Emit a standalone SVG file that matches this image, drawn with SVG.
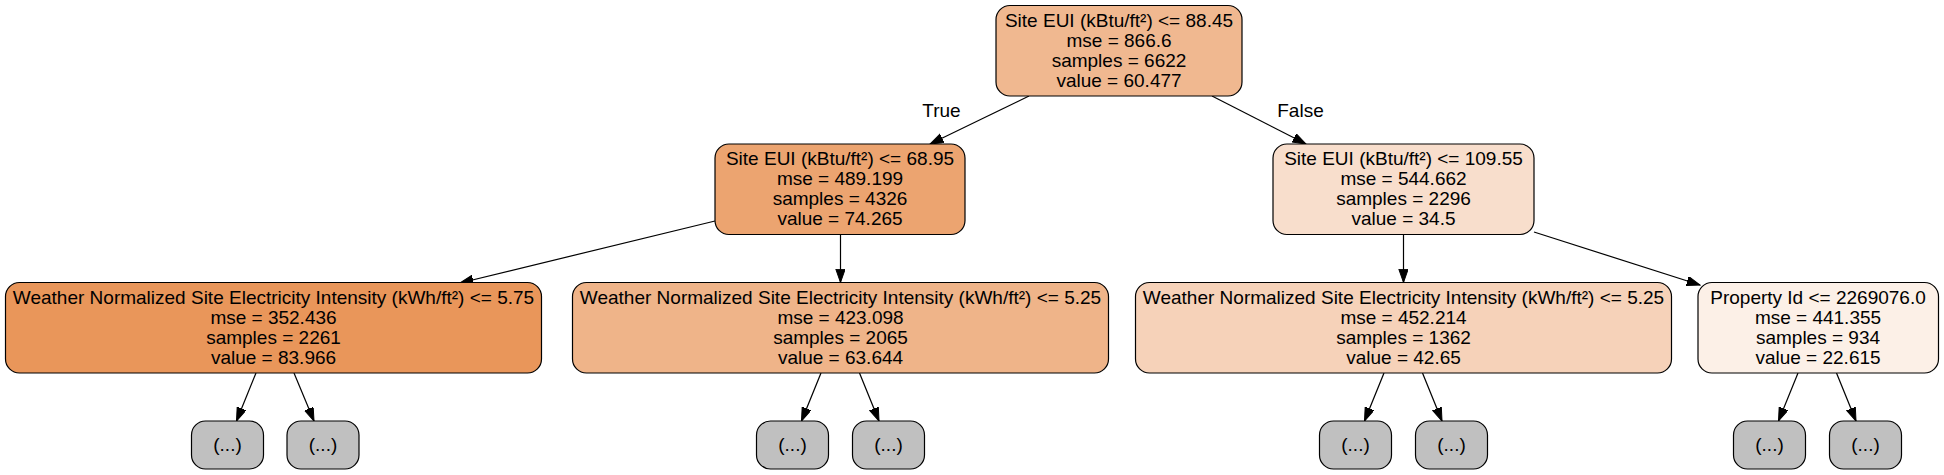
<svg xmlns="http://www.w3.org/2000/svg" width="1944" height="475" viewBox="0 0 1944 475">
<defs>
<marker id="arr" markerUnits="userSpaceOnUse" markerWidth="14" markerHeight="10" refX="13.3" refY="4.67" orient="auto">
<path d="M0,0 L13.3,4.67 L0,9.33 z" fill="#000" stroke="#000" stroke-width="1"/>
</marker>
<style>
.n{stroke:#000;stroke-width:1.2}
.t{font-family:"Liberation Sans",Arial,sans-serif;font-size:19px;fill:#000;text-anchor:middle}
.e{stroke:#000;stroke-width:1.2;fill:none;marker-end:url(#arr)}
.leaf{fill:#c0c0c0;stroke:#000;stroke-width:1.2}
</style>
</defs>
<rect width="1944" height="475" fill="#fff"/>
<g id="connectors">
<line class="e" x1="1029" y1="96" x2="930" y2="144"/>
<line class="e" x1="1212" y1="96" x2="1306" y2="144"/>
<line class="e" x1="715" y1="221" x2="460" y2="283"/>
<line class="e" x1="840.5" y1="234.5" x2="840.5" y2="282.5"/>
<line class="e" x1="1403.5" y1="234.5" x2="1403.5" y2="282.5"/>
<line class="e" x1="1534" y1="232" x2="1700" y2="285"/>
<line class="e" x1="256" y1="373" x2="236.5" y2="421"/>
<line class="e" x1="294" y1="373" x2="314" y2="421"/>
<line class="e" x1="821" y1="373" x2="801.5" y2="421"/>
<line class="e" x1="859.5" y1="373" x2="879" y2="421"/>
<line class="e" x1="1384" y1="373" x2="1364.5" y2="421"/>
<line class="e" x1="1422.5" y1="373" x2="1442" y2="421"/>
<line class="e" x1="1798" y1="373" x2="1778.5" y2="421"/>
<line class="e" x1="1836.5" y1="373" x2="1856" y2="421"/>
<text class="t" x="941.5" y="116.5">True</text>
<text class="t" x="1300.5" y="116.5">False</text>
</g>
<g id="node0">
<rect class="n" x="996" y="5.5" width="246" height="90.5" rx="14" fill="#f0b890"/>
<text class="t" x="1119" y="26.6">Site EUI (kBtu/ft²) &lt;= 88.45</text>
<text class="t" x="1119" y="46.6">mse = 866.6</text>
<text class="t" x="1119" y="66.6">samples = 6622</text>
<text class="t" x="1119" y="86.6">value = 60.477</text>
</g>
<g id="node1">
<rect class="n" x="715" y="144" width="250" height="90.5" rx="14" fill="#eca470"/>
<text class="t" x="840" y="165.2">Site EUI (kBtu/ft²) &lt;= 68.95</text>
<text class="t" x="840" y="185.2">mse = 489.199</text>
<text class="t" x="840" y="205.2">samples = 4326</text>
<text class="t" x="840" y="225.2">value = 74.265</text>
</g>
<g id="node2">
<rect class="n" x="1273" y="144" width="261" height="90.5" rx="14" fill="#f8decc"/>
<text class="t" x="1403.5" y="165.2">Site EUI (kBtu/ft²) &lt;= 109.55</text>
<text class="t" x="1403.5" y="185.2">mse = 544.662</text>
<text class="t" x="1403.5" y="205.2">samples = 2296</text>
<text class="t" x="1403.5" y="225.2">value = 34.5</text>
</g>
<g id="node3">
<rect class="n" x="5.5" y="282.5" width="536" height="90.5" rx="14" fill="#e9965a"/>
<text class="t" x="273.5" y="303.8">Weather Normalized Site Electricity Intensity (kWh/ft²) &lt;= 5.75</text>
<text class="t" x="273.5" y="323.8">mse = 352.436</text>
<text class="t" x="273.5" y="343.8">samples = 2261</text>
<text class="t" x="273.5" y="363.8">value = 83.966</text>
</g>
<g id="node4">
<rect class="n" x="572.5" y="282.5" width="536" height="90.5" rx="14" fill="#efb489"/>
<text class="t" x="840.5" y="303.8">Weather Normalized Site Electricity Intensity (kWh/ft²) &lt;= 5.25</text>
<text class="t" x="840.5" y="323.8">mse = 423.098</text>
<text class="t" x="840.5" y="343.8">samples = 2065</text>
<text class="t" x="840.5" y="363.8">value = 63.644</text>
</g>
<g id="node5">
<rect class="n" x="1135.5" y="282.5" width="536" height="90.5" rx="14" fill="#f6d2b9"/>
<text class="t" x="1403.5" y="303.8">Weather Normalized Site Electricity Intensity (kWh/ft²) &lt;= 5.25</text>
<text class="t" x="1403.5" y="323.8">mse = 452.214</text>
<text class="t" x="1403.5" y="343.8">samples = 1362</text>
<text class="t" x="1403.5" y="363.8">value = 42.65</text>
</g>
<g id="node6">
<rect class="n" x="1698" y="282.5" width="240.5" height="90.5" rx="14" fill="#fcf0e7"/>
<text class="t" x="1818" y="303.8">Property Id &lt;= 2269076.0</text>
<text class="t" x="1818" y="323.8">mse = 441.355</text>
<text class="t" x="1818" y="343.8">samples = 934</text>
<text class="t" x="1818" y="363.8">value = 22.615</text>
</g>
<g id="leaf1"><rect class="leaf" x="191.5" y="421" width="72" height="48" rx="14"/><text class="t" x="227.5" y="451">(...)</text></g>
<g id="leaf2"><rect class="leaf" x="287" y="421" width="72" height="48" rx="14"/><text class="t" x="323" y="451">(...)</text></g>
<g id="leaf3"><rect class="leaf" x="756.5" y="421" width="72" height="48" rx="14"/><text class="t" x="792.5" y="451">(...)</text></g>
<g id="leaf4"><rect class="leaf" x="852.5" y="421" width="72" height="48" rx="14"/><text class="t" x="888.5" y="451">(...)</text></g>
<g id="leaf5"><rect class="leaf" x="1319.5" y="421" width="72" height="48" rx="14"/><text class="t" x="1355.5" y="451">(...)</text></g>
<g id="leaf6"><rect class="leaf" x="1415.5" y="421" width="72" height="48" rx="14"/><text class="t" x="1451.5" y="451">(...)</text></g>
<g id="leaf7"><rect class="leaf" x="1733.5" y="421" width="72" height="48" rx="14"/><text class="t" x="1769.5" y="451">(...)</text></g>
<g id="leaf8"><rect class="leaf" x="1829.5" y="421" width="72" height="48" rx="14"/><text class="t" x="1865.5" y="451">(...)</text></g>
</svg>
